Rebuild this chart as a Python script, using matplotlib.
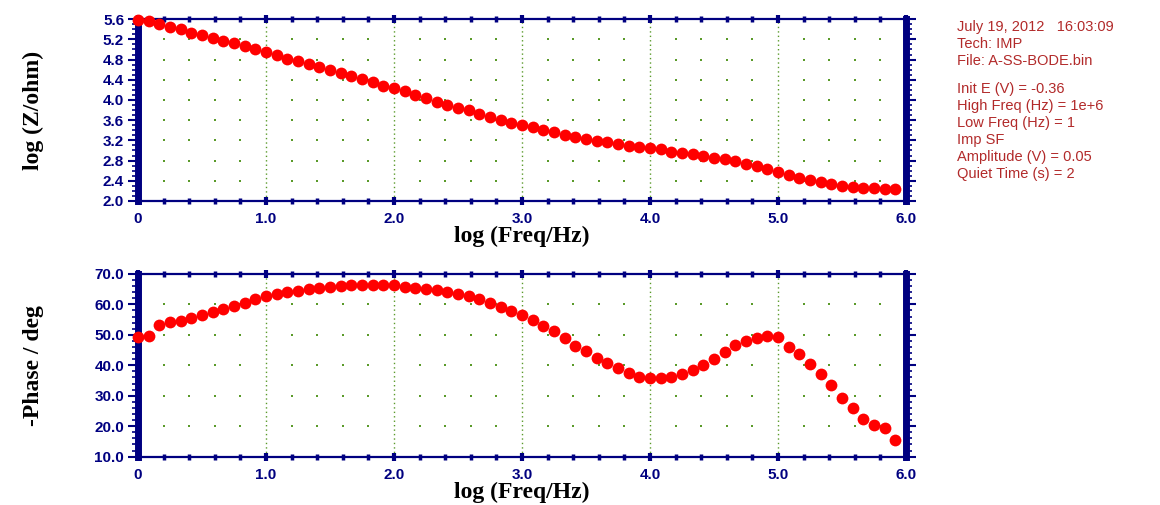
import numpy as np
import matplotlib
matplotlib.use('Agg')
import matplotlib.pyplot as plt
from matplotlib.ticker import MultipleLocator, FuncFormatter

# 12 points per decade, from 1 Hz upward
log_freq = np.arange(72) / 12.0

log_z = [5.59, 5.57, 5.50, 5.45, 5.40, 5.33, 5.28, 5.23, 5.17, 5.13, 5.07, 5.01,
         4.96, 4.89, 4.82, 4.77, 4.71, 4.65, 4.59, 4.53, 4.48, 4.42, 4.35, 4.28,
         4.23, 4.17, 4.10, 4.04, 3.97, 3.90, 3.85, 3.81, 3.73, 3.67, 3.61, 3.55,
         3.50, 3.46, 3.41, 3.36, 3.31, 3.27, 3.23, 3.19, 3.16, 3.13, 3.09, 3.07,
         3.05, 3.02, 2.98, 2.95, 2.93, 2.90, 2.86, 2.83, 2.79, 2.74, 2.69, 2.64,
         2.58, 2.51, 2.46, 2.41, 2.37, 2.33, 2.29, 2.27, 2.26, 2.25, 2.24, 2.23]

neg_phase = [49.2, 49.6, 53.2, 54.1, 54.6, 55.4, 56.5, 57.4, 58.4, 59.3, 60.6, 61.7,
             62.6, 63.3, 64.0, 64.5, 65.1, 65.5, 65.8, 66.1, 66.3, 66.4, 66.4, 66.3,
             66.2, 65.8, 65.3, 65.1, 64.7, 64.0, 63.4, 62.6, 61.6, 60.5, 59.2, 57.8,
             56.5, 54.8, 52.8, 51.3, 48.9, 46.4, 44.7, 42.5, 40.7, 39.0, 37.4, 36.3,
             35.9, 35.7, 36.2, 37.2, 38.3, 40.1, 42.0, 44.3, 46.5, 48.0, 49.1, 49.7,
             49.3, 45.9, 43.6, 40.4, 37.0, 33.5, 29.2, 25.9, 22.4, 20.4, 19.3, 15.6]

info_lines = ['July 19, 2012   16:03:09', 'Tech: IMP', 'File: A-SS-BODE.bin', '',
              'Init E (V) = -0.36', 'High Freq (Hz) = 1e+6', 'Low Freq (Hz) = 1',
              'Imp SF', 'Amplitude (V) = 0.05', 'Quiet Time (s) = 2']

navy = '#000080'
dot_green = '#5a9a2a'

fig = plt.figure(figsize=(11.6, 5.05), dpi=100)
ax1 = fig.add_axes([0.119, 0.602, 0.662, 0.360])
ax2 = fig.add_axes([0.119, 0.0957, 0.662, 0.362])


def style_axes(ax, ymin, ymax, ymajor, yminor, fmt, ylabel):
    ax.set_xlim(0, 6)
    ax.set_ylim(ymin, ymax)
    ax.xaxis.set_major_locator(MultipleLocator(1.0))
    ax.xaxis.set_minor_locator(MultipleLocator(0.2))
    ax.yaxis.set_major_locator(MultipleLocator(ymajor))
    ax.yaxis.set_minor_locator(MultipleLocator(yminor))
    ax.xaxis.set_major_formatter(FuncFormatter(lambda v, p: '0' if abs(v) < 1e-9 else '%.1f' % v))
    ax.yaxis.set_major_formatter(FuncFormatter(lambda v, p: fmt % v))

    for side in ['left', 'right']:
        ax.spines[side].set_linewidth(5)
        ax.spines[side].set_color(navy)
    for side in ['top', 'bottom']:
        ax.spines[side].set_linewidth(1.6)
        ax.spines[side].set_color(navy)

    ax.tick_params(axis='x', which='major', direction='inout', length=6, width=3,
                   color=navy, top=True, bottom=True, pad=5)
    ax.tick_params(axis='x', which='minor', direction='inout', length=4, width=2.5,
                   color=navy, top=True, bottom=True)
    ax.tick_params(axis='y', which='major', direction='out', length=7, width=1.5,
                   color=navy, left=True, right=True, pad=3)
    ax.tick_params(axis='y', which='minor', direction='out', length=4, width=1.2,
                   color=navy, left=True, right=True)
    for lab in ax.get_xticklabels() + ax.get_yticklabels():
        lab.set_fontfamily('Liberation Sans')
        lab.set_fontweight('bold')
        lab.set_fontsize(11)
        lab.set_color(navy)

    # dotted vertical grid at the decades
    ax.xaxis.grid(True, which='major', color=dot_green, linestyle=(0, (1, 2.2)), linewidth=1)
    # sparse grid dots: minor x positions on major y levels
    gx = [v for v in np.arange(0.2, 6.0, 0.2) if abs(v - round(v)) > 1e-6]
    gy = np.arange(ymin + ymajor, ymax - ymajor / 2, ymajor)
    mx, my = np.meshgrid(gx, gy)
    ax.scatter(mx.ravel(), my.ravel(), s=2.5, color=dot_green, marker='s', linewidths=0, zorder=1)

    ax.set_xlabel('log (Freq/Hz)', family='Liberation Serif', fontweight='bold', fontsize=17,
                  labelpad=0)
    ax.set_ylabel(ylabel, family='Liberation Serif', fontweight='bold', fontsize=17)
    ax.yaxis.set_label_coords(-0.122, 0.5)


style_axes(ax1, 2.0, 5.6, 0.4, 0.1, '%.1f', 'log (Z/ohm)')
style_axes(ax2, 10.0, 70.0, 10.0, 2.0, '%.1f', '-Phase / deg')

ax1.plot(log_freq, log_z, linestyle='none', marker='o', markersize=8.5, color='red',
         markeredgewidth=0, clip_on=False, zorder=5)
ax2.plot(log_freq, neg_phase, linestyle='none', marker='o', markersize=8.5, color='red',
         markeredgewidth=0, clip_on=False, zorder=5)

# instrument info block at the right
y = 1 - 27 / 505
for line in info_lines:
    if line == '':
        y -= 11 / 505
        continue
    fig.text(0.825, y, line, family='Liberation Sans', fontsize=10.5, color='#b22a2a',
             ha='left', va='center')
    y -= 17 / 505

fig.savefig('out.png', dpi=100)
